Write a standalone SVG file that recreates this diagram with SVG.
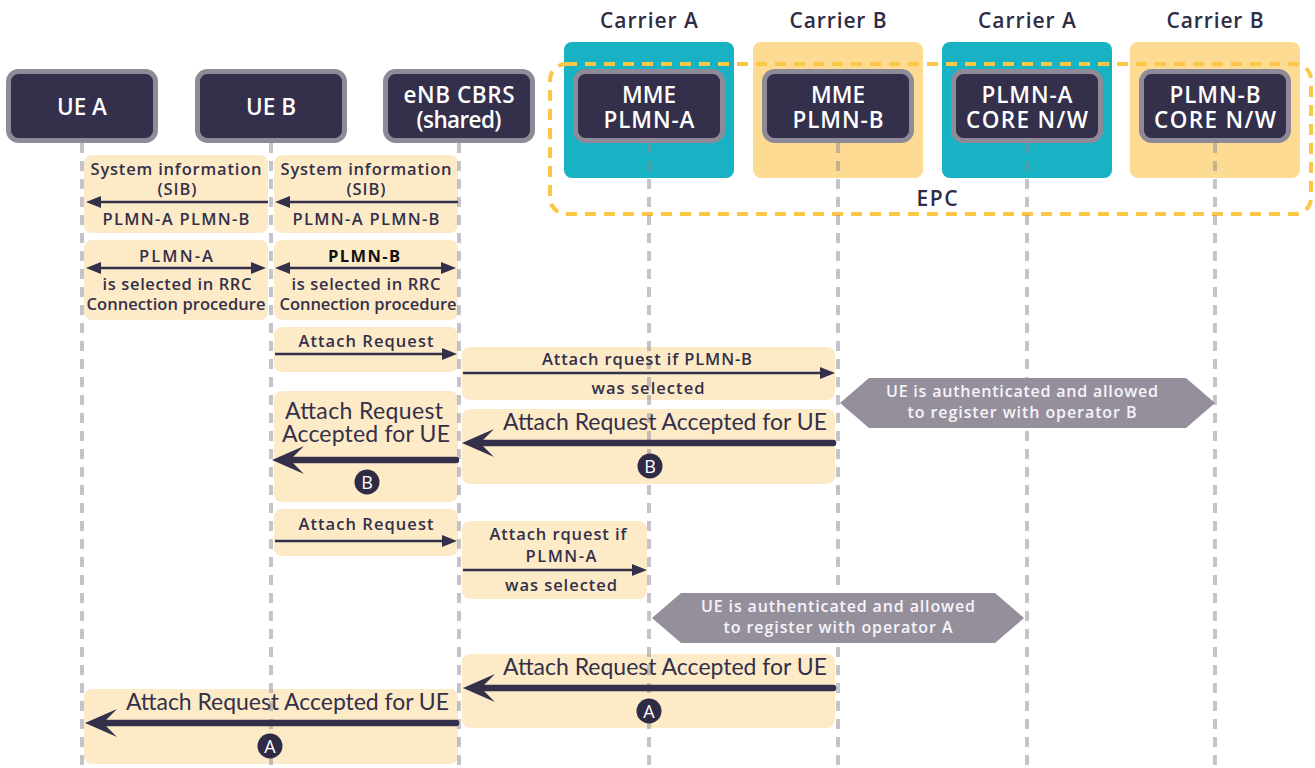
<svg xmlns="http://www.w3.org/2000/svg" width="1315" height="768" viewBox="0 0 1315 768">
  <defs>
    <style>
      .lbl { font-family: "Open Sans", "Liberation Sans", sans-serif; font-weight: 600; font-size: 16.5px; fill: #34304a; text-anchor: middle; }
      .big { font-family: Lato, "Open Sans", sans-serif; font-weight: 400; font-size: 23px; fill: #34304a; }
      .hdr { font-family: "Open Sans", "Liberation Sans", sans-serif; font-weight: 600; font-size: 21px; fill: #2f2c45; text-anchor: middle; }
      .node rect { fill: #342f4b; stroke: #8f8a97; stroke-width: 5; }
      .node text { font-family: "Open Sans", "Liberation Sans", sans-serif; font-weight: 600; font-size: 22.5px; fill: #ffffff; text-anchor: middle; }
      .msg { fill: #fdebc8; }
      .life { stroke: #8b8796; stroke-opacity: 0.5; stroke-width: 4; stroke-dasharray: 10 8; fill: none; }
      .thin { stroke: #34304a; stroke-width: 2.5; fill: none; }
      .thick { stroke: #34304a; stroke-width: 6.5; stroke-linecap: round; fill: none; }
      .hex { fill: #958f9c; }
      .hex-t { font-family: "Open Sans", "Liberation Sans", sans-serif; font-weight: 600; font-size: 16px; fill: #f6f4f8; text-anchor: middle; }
      .badge circle { fill: #2f2b45; }
      .badge text { font-family: "Open Sans", "Liberation Sans", sans-serif; font-weight: 400; font-size: 18px; fill: #ffffff; text-anchor: middle; }
    </style>
    <marker id="tip" markerUnits="userSpaceOnUse" markerWidth="15" markerHeight="12" viewBox="0 0 15 12" refX="6" refY="6" orient="auto-start-reverse">
      <path d="M0,0 L15,6 L0,12 z" fill="#34304a"/>
    </marker>
    <marker id="head" markerUnits="userSpaceOnUse" markerWidth="32" markerHeight="30" viewBox="0 0 32 30" refX="15" refY="15" orient="auto">
      <path d="M0,1 L32,15 L0,29 L14,15 z" fill="#34304a"/>
    </marker>
  </defs>

  <!-- carrier backgrounds -->
  <g id="carriers">
    <rect x="564" y="42" width="170" height="136" rx="8" fill="#17b3c4"/>
    <rect x="753" y="42" width="170" height="136" rx="8" fill="#fedb93"/>
    <rect x="942" y="42" width="170" height="136" rx="8" fill="#17b3c4"/>
    <rect x="1130" y="42" width="170" height="136" rx="8" fill="#fedb93"/>
    <text class="hdr" x="649" y="28" textLength="98">Carrier A</text>
    <text class="hdr" x="838" y="28" textLength="97">Carrier B</text>
    <text class="hdr" x="1027" y="28" textLength="98">Carrier A</text>
    <text class="hdr" x="1215" y="28" textLength="97">Carrier B</text>
  </g>

  <!-- EPC boundary -->
  <g id="epc">
    <rect x="550" y="64" width="761" height="150" rx="16" fill="none" stroke="#fcc646" stroke-width="4" stroke-dasharray="11 8"/>
    <text class="hdr" x="937" y="206" font-size="20" textLength="41">EPC</text>
  </g>

  <!-- message panels -->
  <g id="panels">
    <rect class="msg" x="84" y="155" width="184" height="78" rx="8"/>
    <rect class="msg" x="274" y="155" width="184" height="78" rx="8"/>
    <rect class="msg" x="84" y="240" width="184" height="80" rx="8"/>
    <rect class="msg" x="274" y="240" width="184" height="80" rx="8"/>
    <rect class="msg" x="274" y="327" width="184" height="45" rx="8"/>
    <rect class="msg" x="462" y="347" width="373" height="53" rx="8"/>
    <rect class="msg" x="274" y="391" width="184" height="111" rx="8"/>
    <rect class="msg" x="462" y="409" width="373" height="75" rx="8"/>
    <rect class="msg" x="274" y="509" width="184" height="47" rx="8"/>
    <rect class="msg" x="462" y="521" width="185" height="78" rx="8"/>
    <rect class="msg" x="462" y="654" width="373" height="74" rx="8"/>
    <rect class="msg" x="84" y="689" width="374" height="75" rx="8"/>
  </g>

  <!-- lifelines -->
  <g id="lifelines">
    <line class="life" x1="82" y1="143" x2="82" y2="768"/>
    <line class="life" x1="271" y1="143" x2="271" y2="768"/>
    <line class="life" x1="459" y1="143" x2="459" y2="768"/>
    <line class="life" x1="649" y1="143" x2="649" y2="768"/>
    <line class="life" x1="838" y1="143" x2="838" y2="768"/>
    <line class="life" x1="1027" y1="143" x2="1027" y2="768"/>
    <line class="life" x1="1215" y1="143" x2="1215" y2="768"/>
  </g>

  <!-- nodes -->
  <g id="ue-a" class="node">
    <rect x="8.5" y="71.5" width="147" height="69" rx="10"/>
    <text x="82" y="115">UE A</text>
  </g>
  <g id="ue-b" class="node">
    <rect x="197.5" y="71.5" width="147" height="69" rx="10"/>
    <text x="271" y="115">UE B</text>
  </g>
  <g id="enb" class="node">
    <rect x="385.5" y="71.5" width="147" height="69" rx="10"/>
    <text x="459" y="103" textLength="111">eNB CBRS</text>
    <text x="459" y="128" textLength="85">(shared)</text>
  </g>
  <g id="mme-a" class="node">
    <rect x="575.5" y="71.5" width="147" height="69" rx="10"/>
    <text x="649" y="103">MME</text>
    <text x="649" y="128" textLength="91">PLMN-A</text>
  </g>
  <g id="mme-b" class="node">
    <rect x="764.5" y="71.5" width="147" height="69" rx="10"/>
    <text x="838" y="103">MME</text>
    <text x="838" y="128" textLength="91">PLMN-B</text>
  </g>
  <g id="core-a" class="node">
    <rect x="953.5" y="71.5" width="147" height="69" rx="10"/>
    <text x="1027" y="103" textLength="91">PLMN-A</text>
    <text x="1027" y="128" textLength="122">CORE N/W</text>
  </g>
  <g id="core-b" class="node">
    <rect x="1141.5" y="71.5" width="147" height="69" rx="10"/>
    <text x="1215" y="103" textLength="91">PLMN-B</text>
    <text x="1215" y="128" textLength="122">CORE N/W</text>
  </g>

  <!-- EPC notes -->
  <g id="note-b">
    <polygon class="hex" points="840,403 869,378 1186,378 1215,403 1186,428 869,428"/>
    <text class="hex-t" x="1022" y="397" textLength="272">UE is authenticated and allowed</text>
    <text class="hex-t" x="1022" y="418" textLength="229">to register with operator B</text>
  </g>
  <g id="note-a">
    <polygon class="hex" points="652,618 681,593 995,593 1024,618 995,643 681,643"/>
    <text class="hex-t" x="838" y="612" textLength="274">UE is authenticated and allowed</text>
    <text class="hex-t" x="838" y="633" textLength="229">to register with operator A</text>
  </g>

  <!-- connectors -->
  <g id="connectors">
    <line class="thin" x1="268" y1="202" x2="95" y2="202" marker-end="url(#tip)"/>
    <line class="thin" x1="458" y1="202" x2="284" y2="202" marker-end="url(#tip)"/>
    <line class="thin" x1="95" y1="268" x2="257" y2="268" marker-start="url(#tip)" marker-end="url(#tip)"/>
    <line class="thin" x1="284" y1="268" x2="447" y2="268" marker-start="url(#tip)" marker-end="url(#tip)"/>
    <line class="thin" x1="275" y1="354" x2="448" y2="354" marker-end="url(#tip)"/>
    <line class="thin" x1="463" y1="373" x2="826" y2="373" marker-end="url(#tip)"/>
    <line class="thick" x1="456" y1="460" x2="289" y2="460" marker-end="url(#head)"/>
    <line class="thick" x1="833" y1="443" x2="479" y2="443" marker-end="url(#head)"/>
    <line class="thin" x1="275" y1="541" x2="448" y2="541" marker-end="url(#tip)"/>
    <line class="thin" x1="463" y1="570" x2="638" y2="570" marker-end="url(#tip)"/>
    <line class="thick" x1="833" y1="688" x2="480" y2="688" marker-end="url(#head)"/>
    <line class="thick" x1="456" y1="723" x2="102" y2="723" marker-end="url(#head)"/>
  </g>

  <!-- message labels -->
  <g id="labels">
    <text class="lbl" x="176" y="175" textLength="171">System information</text>
    <text class="lbl" x="177" y="195" textLength="39">(SIB)</text>
    <text class="lbl" x="176" y="225" textLength="147">PLMN-A PLMN-B</text>
    <text class="lbl" x="366" y="175" textLength="171">System information</text>
    <text class="lbl" x="366" y="195" textLength="39">(SIB)</text>
    <text class="lbl" x="366" y="225" textLength="147">PLMN-A PLMN-B</text>

    <text class="lbl" x="176" y="262" textLength="74">PLMN-A</text>
    <text class="lbl" x="177" y="290" textLength="149">is selected in RRC</text>
    <text class="lbl" x="176" y="310" textLength="179">Connection procedure</text>
    <text class="lbl" x="364" y="262" textLength="72" style="fill:#111111;font-weight:700">PLMN-B</text>
    <text class="lbl" x="366" y="290" textLength="149">is selected in RRC</text>
    <text class="lbl" x="368" y="310" textLength="177">Connection procedure</text>

    <text class="lbl" x="366" y="347" textLength="135">Attach Request</text>
    <text class="lbl" x="647" y="365" textLength="210">Attach rquest if PLMN-B</text>
    <text class="lbl" x="648" y="394" textLength="113">was selected</text>

    <text class="big" x="364" y="419" font-size="22" text-anchor="middle" textLength="158">Attach Request</text>
    <text class="big" x="366" y="442" font-size="22" text-anchor="middle" textLength="168">Accepted for UE</text>
    <text class="big" x="827" y="430" text-anchor="end" textLength="324">Attach Request Accepted for UE</text>

    <text class="lbl" x="366" y="530" textLength="135">Attach Request</text>
    <text class="lbl" x="558" y="540" textLength="137">Attach rquest if</text>
    <text class="lbl" x="561" y="562" textLength="71">PLMN-A</text>
    <text class="lbl" x="561" y="591" textLength="112">was selected</text>

    <text class="big" x="827" y="675" text-anchor="end" textLength="324">Attach Request Accepted for UE</text>
    <text class="big" x="449" y="710" text-anchor="end" textLength="323">Attach Request Accepted for UE</text>
  </g>

  <!-- operator badges -->
  <g class="badge">
    <circle cx="367" cy="482" r="12.5"/>
    <text x="367" y="488.5">B</text>
    <circle cx="650" cy="466" r="12.5"/>
    <text x="650" y="472.5">B</text>
    <circle cx="649" cy="711" r="12.5"/>
    <text x="649" y="717.5">A</text>
    <circle cx="270" cy="746" r="12.5"/>
    <text x="270" y="752.5">A</text>
  </g>
</svg>
